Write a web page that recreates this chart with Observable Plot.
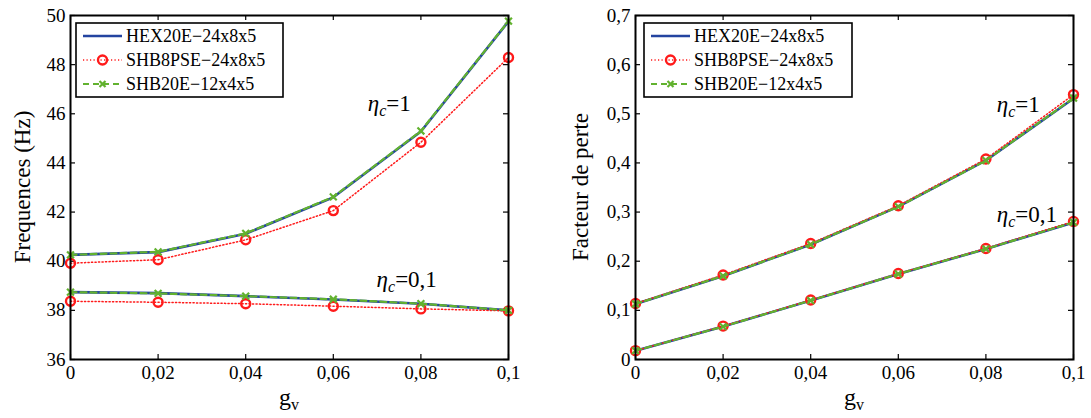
<!DOCTYPE html>
<html>
<head>
<meta charset="utf-8">
<script src="https://cdn.jsdelivr.net/npm/d3@7"></script>
<script src="https://cdn.jsdelivr.net/npm/@observablehq/plot@0.6"></script>
<style>
  html, body { margin: 0; padding: 0; background: #fff; }
  #wrap { display: flex; width: 1091px; height: 418px; }
  #wrap svg { display: block; }
  #wrap svg, #wrap svg text { font-family: "Liberation Serif", "Times New Roman", serif; }
</style>
</head>
<body>
<div id="wrap"></div>
<script>
// ---------- data ----------
const gv = [0, 0.02, 0.04, 0.06, 0.08, 0.1];
const seriesNames = ["HEX20E\u221224x8x5", "SHB8PSE\u221224x8x5", "SHB20E\u221212x4x5"];
const curveNames = ["\u03b7c=1", "\u03b7c=0,1"];

// Frequencies (Hz)
const freqHex_1   = [40.26, 40.37, 41.12, 42.60, 45.28, 49.76];
const freqShb8_1  = [39.92, 40.06, 40.87, 42.06, 44.84, 48.29];
const freqShb20_1 = [40.26, 40.38, 41.13, 42.62, 45.30, 49.77];
const freqHex_01   = [38.74, 38.70, 38.58, 38.44, 38.27, 38.00];
const freqShb8_01  = [38.37, 38.33, 38.27, 38.17, 38.06, 37.98];
const freqShb20_01 = [38.74, 38.69, 38.58, 38.45, 38.27, 38.00];

// Loss factor
const lossHex_1   = [0.113, 0.170, 0.234, 0.311, 0.405, 0.531];
const lossShb8_1  = [0.114, 0.172, 0.236, 0.313, 0.408, 0.539];
const lossShb20_1 = [0.113, 0.170, 0.234, 0.311, 0.405, 0.532];
const lossHex_01   = [0.018, 0.067, 0.120, 0.174, 0.225, 0.279];
const lossShb8_01  = [0.018, 0.068, 0.121, 0.175, 0.226, 0.281];
const lossShb20_01 = [0.018, 0.067, 0.120, 0.174, 0.225, 0.279];

const freqTicks = [36, 38, 40, 42, 44, 46, 48, 50];
const lossTicks = [0, 0.1, 0.2, 0.3, 0.4, 0.5, 0.6, 0.7];

// ---------- styles ----------
const BLUE = "#2444a0", RED = "#ff1a1a", GREEN = "#62b22f";
const FONT = "Liberation Serif";
const fmt = d => String(d).replace(".", ",");

function rows(arrs) {
  const out = [];
  seriesNames.forEach((s, si) => {
    arrs[si].forEach((arr, ci) => {
      arr.forEach((v, i) => out.push({x: gv[i], y: v, series: s, curve: curveNames[ci]}));
    });
  });
  return out;
}

function panel(opts) {
  const {data, yDomain, yTicks, width, marginLeft, marginRight, ylabel, legendX, legendW, notes} = opts;
  const byS = s => data.filter(d => d.series === s);
  const mT = 15, mB = 59, H = 418;
  const plot = Plot.plot({
    width, height: H, marginLeft, marginRight, marginTop: mT, marginBottom: mB,
    x: {domain: [0, 0.1]},
    y: {domain: yDomain},
    style: {fontFamily: FONT, fontSize: "19px", background: "white", color: "black", overflow: "visible"},
    marks: [
      Plot.tickX(gv, {x: d => d, stroke: "black", strokeWidth: 1.2, insetTop: H - mT - mB - 5}),
      Plot.tickX(gv, {x: d => d, stroke: "black", strokeWidth: 1.2, insetBottom: H - mT - mB - 5}),
      Plot.tickY(yTicks, {y: d => d, stroke: "black", strokeWidth: 1.2, insetRight: width - marginLeft - marginRight - 5}),
      Plot.tickY(yTicks, {y: d => d, stroke: "black", strokeWidth: 1.2, insetLeft: width - marginLeft - marginRight - 5}),
      Plot.line(byS(seriesNames[0]), {x: "x", y: "y", z: "curve", stroke: BLUE, strokeWidth: 2.6}),
      Plot.line(byS(seriesNames[1]), {x: "x", y: "y", z: "curve", stroke: RED, strokeWidth: 1.5, strokeDasharray: "1.2,2.3"}),
      Plot.dot(byS(seriesNames[1]), {x: "x", y: "y", r: 4.5, stroke: RED, strokeWidth: 2.4, fill: "none"}),
      Plot.line(byS(seriesNames[2]), {x: "x", y: "y", z: "curve", stroke: GREEN, strokeWidth: 2.2, strokeDasharray: "6,4"}),
      Plot.dot(byS(seriesNames[2]), {x: "x", y: "y", r: 3.2, symbol: "times", stroke: GREEN, strokeWidth: 2.2}),
      Plot.frame({stroke: "black", strokeWidth: 2}),
      Plot.axisX({ticks: gv, tickFormat: fmt, tickSize: 0, tickPadding: 6, label: null, fontSize: 19}),
      Plot.axisY({ticks: yTicks, tickFormat: fmt, tickSize: 0, tickPadding: 5, label: null, fontSize: 19})
    ]
  });

  const svg = d3.select(plot);
  const sx = plot.scale("x"), sy = plot.scale("y");

  const xl = svg.append("text")
    .attr("x", (marginLeft + width - marginRight) / 2)
    .attr("y", 405)
    .attr("text-anchor", "middle")
    .attr("font-family", FONT).attr("font-size", 24).attr("fill", "black");
  xl.append("tspan").text("g");
  xl.append("tspan").attr("font-size", 16).attr("dy", 5).text("v");

  svg.append("text")
    .attr("transform", `translate(${opts.ylabelX},${(mT + H - mB) / 2}) rotate(-90)`)
    .attr("text-anchor", "middle")
    .attr("font-family", FONT).attr("font-size", 23).attr("fill", "black")
    .text(ylabel);

  notes.forEach(n => {
    const t = svg.append("text")
      .attr("x", sx.apply(n.x)).attr("y", sy.apply(n.y))
      .attr("text-anchor", "start")
      .attr("font-family", FONT).attr("font-size", 23).attr("fill", "black");
    t.append("tspan").attr("font-style", "italic").text("\u03b7");
    t.append("tspan").attr("font-style", "italic").attr("font-size", 16).attr("dy", 5).text("c");
    t.append("tspan").attr("dy", -5).text(n.label);
  });

  const lg = svg.append("g").attr("font-family", FONT).attr("font-size", 18).attr("text-anchor", "start");
  const top = 23, h = 74;
  lg.append("rect").attr("x", legendX).attr("y", top).attr("width", legendW).attr("height", h)
    .attr("fill", "white").attr("stroke", "black").attr("stroke-width", 1.6);
  const rowsY = [top + 13, top + 37, top + 61];
  const x0 = legendX + 7, x1 = legendX + 46;
  lg.append("line").attr("x1", x0).attr("x2", x1).attr("y1", rowsY[0]).attr("y2", rowsY[0])
    .attr("stroke", BLUE).attr("stroke-width", 2.6);
  lg.append("line").attr("x1", x0).attr("x2", x1).attr("y1", rowsY[1]).attr("y2", rowsY[1])
    .attr("stroke", RED).attr("stroke-width", 1.5).attr("stroke-dasharray", "1.2,2.3");
  lg.append("circle").attr("cx", (x0 + x1) / 2).attr("cy", rowsY[1]).attr("r", 4.5)
    .attr("fill", "none").attr("stroke", RED).attr("stroke-width", 2.4);
  lg.append("line").attr("x1", x0).attr("x2", x1).attr("y1", rowsY[2]).attr("y2", rowsY[2])
    .attr("stroke", GREEN).attr("stroke-width", 2.2).attr("stroke-dasharray", "6,4");
  const cx = (x0 + x1) / 2, cy = rowsY[2], s = 3;
  lg.append("path").attr("d", `M${cx - s},${cy - s}L${cx + s},${cy + s}M${cx - s},${cy + s}L${cx + s},${cy - s}`)
    .attr("stroke", GREEN).attr("stroke-width", 2.2);
  seriesNames.forEach((name, i) => {
    lg.append("text").attr("x", x1 + 4).attr("y", rowsY[i]).attr("dy", "0.35em")
      .attr("text-anchor", "start").attr("fill", "black").text(name);
  });
  return plot;
}

const wrap = document.getElementById("wrap");

wrap.appendChild(panel({
  data: rows([[freqHex_1, freqHex_01], [freqShb8_1, freqShb8_01], [freqShb20_1, freqShb20_01]]),
  yDomain: [36, 50], yTicks: freqTicks,
  width: 545, marginLeft: 70, marginRight: 37,
  ylabel: "Frequences (Hz)", ylabelX: 30,
  legendX: 76, legendW: 207,
  notes: [{x: 0.068, y: 46.1, label: "=1"}, {x: 0.070, y: 38.93, label: "=0,1"}]
}));

wrap.appendChild(panel({
  data: rows([[lossHex_1, lossHex_01], [lossShb8_1, lossShb8_01], [lossShb20_1, lossShb20_01]]),
  yDomain: [0, 0.7], yTicks: lossTicks,
  width: 546, marginLeft: 90, marginRight: 18,
  ylabel: "Facteur de perte", ylabelX: 43,
  legendX: 99, legendW: 208,
  notes: [{x: 0.0826, y: 0.503, label: "=1"}, {x: 0.0826, y: 0.279, label: "=0,1"}]
}));
</script>
</body>
</html>
